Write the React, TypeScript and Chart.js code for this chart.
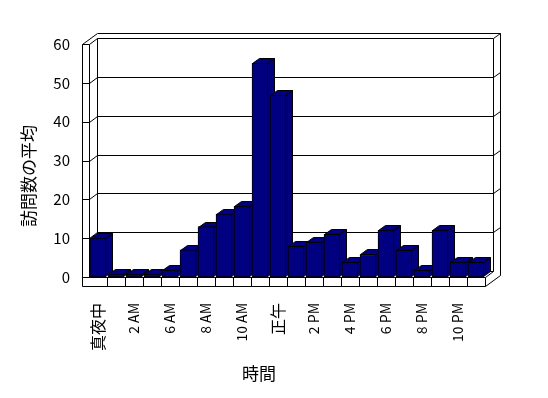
import React, { useEffect, useRef } from 'react';
import { Chart, registerables } from 'chart.js';

Chart.register(...registerables);

// ---- data ----
const categories: string[] = [
  '真夜中', '1 AM', '2 AM', '3 AM', '6 AM', '7 AM', '8 AM', '9 AM', '10 AM', '11 AM',
  '正午', '1 PM', '2 PM', '3 PM', '4 PM', '5 PM', '6 PM', '7 PM', '8 PM', '9 PM', '10 PM', '11 PM',
];
const averageVisits: number[] = [
  10, 0.75, 0.75, 0.75, 1.7, 7, 13, 16.2, 18.2, 55, 46.8,
  7.9, 8.9, 11, 3.8, 5.8, 12, 6.9, 1.7, 12, 3.8, 3.8,
];
const yTickValues: number[] = [0, 10, 20, 30, 40, 50, 60];
const xAxisTitle = '時間';
const yAxisTitle = '訪問数の平均';

const FONT = '"Noto Sans CJK JP", "Noto Sans", sans-serif';
const NAVY = '#000080';

export default function App() {
  const ref = useRef<HTMLCanvasElement>(null);

  useEffect(() => {
    if (!ref.current) return;
    const DX = 8, DY = -6; // front plane -> back wall inner face
    const TX = 7, TY = -5; // back wall thickness
    const BX = 7, BY = -5; // bar depth
    const WALL = 7; // left wall front face width
    const FLOOR = 9; // floor front face height

    const plugin = {
      id: 'excel3d',
      beforeDatasetsDraw(chart: any) {
        const ctx = chart.ctx as CanvasRenderingContext2D;
        const a = chart.chartArea;
        const L = Math.round(a.left), R = Math.round(a.right), T = Math.round(a.top), B = Math.round(a.bottom);
        const ys = chart.scales.y, xs = chart.scales.x;
        const WL = L - WALL;
        const FB = B + FLOOR;
        ctx.save();
        ctx.strokeStyle = '#000';
        ctx.lineWidth = 1;
        const seg = (x1: number, y1: number, x2: number, y2: number) => {
          ctx.beginPath();
          ctx.moveTo(x1 + 0.5, y1 + 0.5);
          ctx.lineTo(x2 + 0.5, y2 + 0.5);
          ctx.stroke();
        };
        // outer outline
        ctx.beginPath();
        ctx.moveTo(WL + 0.5, T + 0.5);
        ctx.lineTo(WL + DX + TX + 0.5, T + DY + TY + 0.5);
        ctx.lineTo(R + DX + TX + 0.5, T + DY + TY + 0.5);
        ctx.lineTo(R + DX + TX + 0.5, FB + DY + TY + 0.5);
        ctx.lineTo(R + 0.5, FB + 0.5);
        ctx.lineTo(WL + 0.5, FB + 0.5);
        ctx.closePath();
        ctx.fillStyle = '#fff';
        ctx.fill();
        ctx.stroke();
        // inner structure
        seg(L, T, L, B);
        seg(L + DX, T + DY, L + DX, B + DY);
        seg(R + DX, T + DY, R + DX, B + DY);
        seg(L, B, R, B);
        seg(R, B, R, FB);
        seg(R, B, R + DX, B + DY);
        // gridlines on walls
        for (const v of yTickValues) {
          const yf = Math.round(ys.getPixelForValue(v));
          seg(WL, yf, L, yf);
          seg(L, yf, L + DX, yf + DY);
          seg(L + DX, yf + DY, R + DX, yf + DY);
          if (v > 0) seg(R + DX, yf + DY, R + DX + TX, yf + DY + TY);
        }
        // category dividers on floor front face
        const n = categories.length;
        for (let k = 1; k < n; k++) {
          const x = Math.round((xs.getPixelForTick(k - 1) + xs.getPixelForTick(k)) / 2);
          seg(x, B, x, FB);
        }
        // bar tops and sides
        const meta = chart.getDatasetMeta(0);
        ctx.fillStyle = NAVY;
        meta.data.forEach((el: any) => {
          const { x, y, base, width } = el.getProps(['x', 'y', 'base', 'width'], true);
          const l = Math.round(x - width / 2) + 0.5;
          const r = Math.round(x + width / 2) - 0.5;
          const t = Math.round(y) + 0.5;
          const b = Math.round(base) - 0.5;
          // side
          ctx.beginPath();
          ctx.moveTo(r, t);
          ctx.lineTo(r + BX, t + BY);
          ctx.lineTo(r + BX, b + BY);
          ctx.lineTo(r, b);
          ctx.closePath();
          ctx.fill();
          ctx.stroke();
          // top
          ctx.beginPath();
          ctx.moveTo(l, t);
          ctx.lineTo(r, t);
          ctx.lineTo(r + BX, t + BY);
          ctx.lineTo(l + BX, t + BY);
          ctx.closePath();
          ctx.fill();
          ctx.stroke();
        });
        ctx.restore();
      },
      afterDraw(chart: any) {
        const ctx = chart.ctx as CanvasRenderingContext2D;
        ctx.save();
        ctx.fillStyle = '#000';
        ctx.font = `17px ${FONT}`;
        ctx.textAlign = 'center';
        ctx.textBaseline = 'middle';
        ctx.fillText(xAxisTitle, 259, 374);
        ctx.translate(29, 176);
        ctx.rotate(-Math.PI / 2);
        ctx.fillText(yAxisTitle, 0, 0);
        ctx.restore();
      },
    };

    const chart = new Chart(ref.current, {
      type: 'bar',
      data: {
        labels: categories,
        datasets: [
          {
            data: averageVisits,
            backgroundColor: NAVY,
            borderColor: '#000',
            borderWidth: 1,
            borderSkipped: false,
            barThickness: 16,
          },
        ],
      },
      options: {
        animation: false,
        responsive: false,
        events: [],
        layout: { padding: { top: 44, right: 63, left: 0, bottom: 0 } },
        plugins: { legend: { display: false }, tooltip: { enabled: false }, title: { display: false } },
        scales: {
          x: {
            offset: true,
            grid: { display: false, drawTicks: false },
            border: { display: false },
            ticks: {
              autoSkip: false,
              maxRotation: 90,
              minRotation: 90,
              padding: 26,
              color: '#000',
              font: (c: any) => ({ family: FONT, size: c.index === 0 || c.index === 10 ? 16 : 14 }),
              callback: (_v: any, i: number) => (i % 2 === 0 ? categories[i] : ''),
            },
            afterFit: (s: any) => { s.height = 121; },
          },
          y: {
            min: 0,
            max: 60,
            grid: { display: false, drawTicks: false },
            border: { display: false },
            ticks: {
              stepSize: 10,
              padding: 19,
              color: '#000',
              font: { family: FONT, size: 15 },
            },
            afterFit: (s: any) => { s.width = 89; },
          },
        },
      },
      plugins: [plugin],
    });
    return () => chart.destroy();
  }, []);

  return (
    <div style={{ position: 'absolute', left: 0, top: 0, width: 548, height: 398, background: '#fff' }}>
      <canvas ref={ref} width={548} height={398} />
    </div>
  );
}
